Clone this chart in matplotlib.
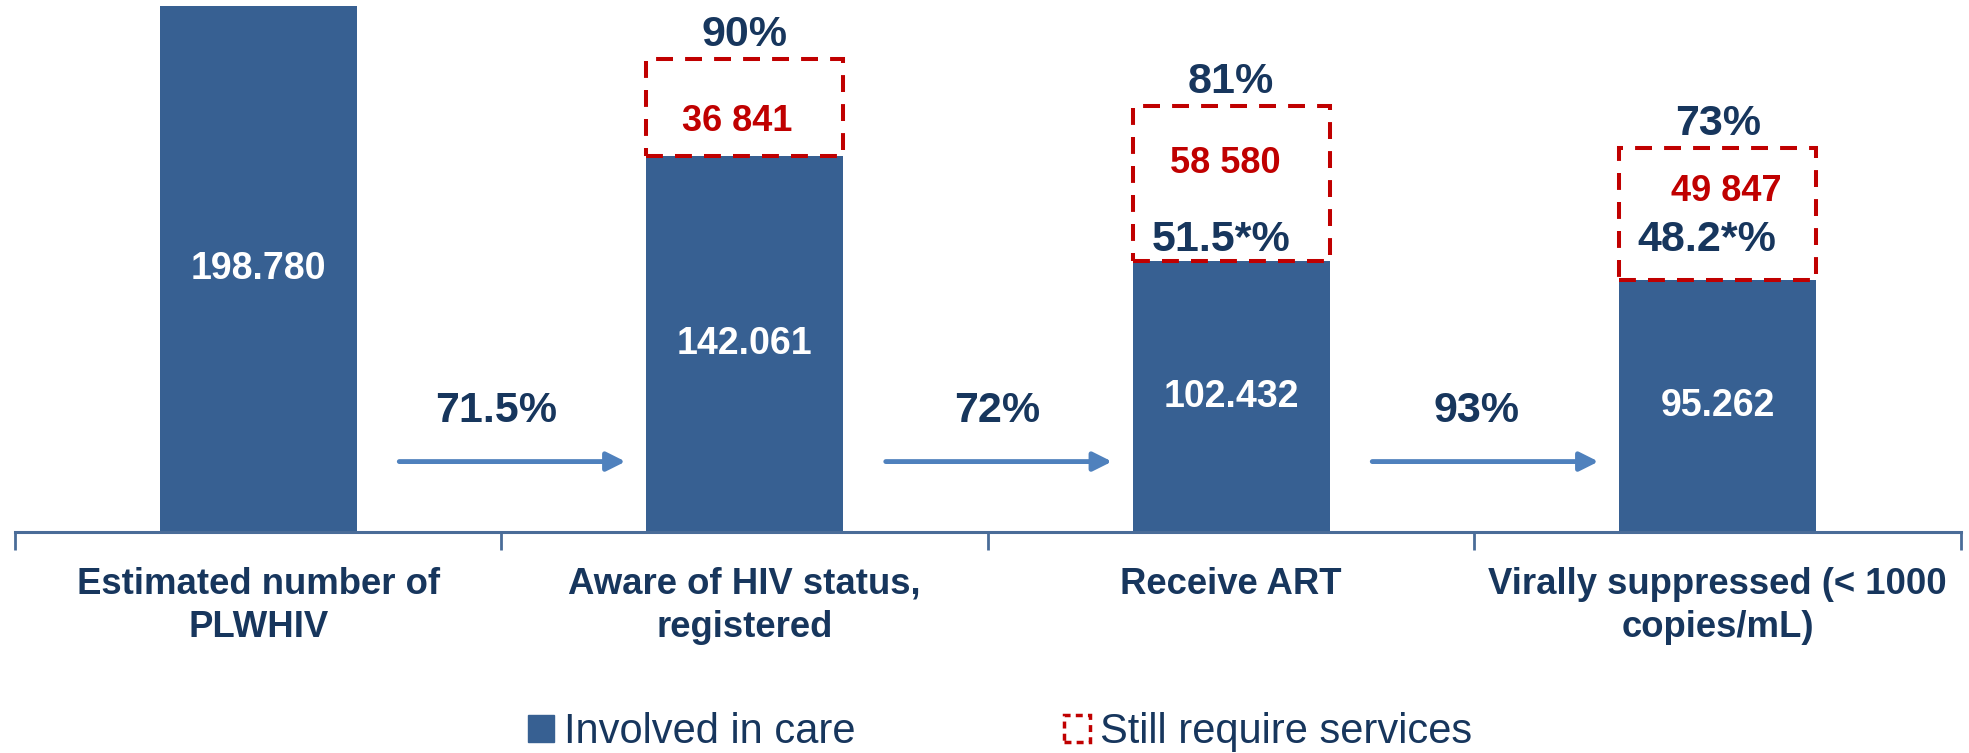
import matplotlib
matplotlib.use('Agg')
import matplotlib.pyplot as plt
from matplotlib.patches import Rectangle, Patch

# dados da cascata
categorias = ['Estimated number of\nPLWHIV', 'Aware of HIV status,\nregistered',
              'Receive ART', 'Virally suppressed (< 1000\ncopies/mL)']
em_cuidado = [198780, 142061, 102432, 95262]
rotulos_cuidado = ['198.780', '142.061', '102.432', '95.262']
faltam = [0, 36841, 58580, 49847]
rotulos_faltam = ['', '36 841', '58 580', '49 847']
pct_meta = ['', '90%', '81%', '73%']
pct_real = ['', '', '51.5*%', '48.2*%']
pct_passagem = ['71.5%', '72%', '93%']

azul = '#376092'
azul_seta = '#4F81BD'
navy = '#17365D'
vermelho = '#C00000'
eixo = '#4A6C98'

plt.rcParams['font.family'] = ['Liberation Sans', 'DejaVu Sans']

fig = plt.figure(figsize=(19.69, 7.53), dpi=100)
ax = fig.add_axes([0.0076, 0.293, 0.9883, 0.703])

x = range(len(categorias))
largura = 0.405
ax.bar(x, em_cuidado, width=largura, color=azul, zorder=2)

for i in x:
    ax.text(i, em_cuidado[i] / 2, rotulos_cuidado[i], ha='center', va='center',
            color='white', fontsize=27, fontweight='bold', zorder=4)
    if faltam[i] > 0:
        topo = em_cuidado[i] + faltam[i]
        ax.add_patch(Rectangle((i - largura / 2, em_cuidado[i]), largura, faltam[i],
                               fill=False, edgecolor=vermelho, lw=2.9,
                               linestyle=(0, (4.2, 3.0)), zorder=3))
        ax.annotate(pct_meta[i], (i, topo), xytext=(0, 17.5), textcoords='offset points',
                    ha='center', va='center', color=navy, fontsize=31, fontweight='bold')

# rotulos dentro das caixas tracejadas (ajuste fino na mao)
desloc_faltam = [None, (-5.5, -45), (-4, -41), (6, -31)]
desloc_real = [None, None, (-7, 15), (-8, 29)]
for i in x:
    if faltam[i] > 0:
        ax.annotate(rotulos_faltam[i], (i, em_cuidado[i] + faltam[i]), xytext=desloc_faltam[i],
                    textcoords='offset points', ha='center', va='center',
                    color=vermelho, fontsize=26, fontweight='bold')
    if pct_real[i]:
        ax.annotate(pct_real[i], (i, em_cuidado[i]), xytext=desloc_real[i],
                    textcoords='offset points', ha='center', va='center',
                    color=navy, fontsize=31, fontweight='bold')

# setas entre as barras
pos_pct = [0.49, 1.518, 2.505]
for i, p in enumerate(pct_passagem):
    ax.annotate('', xy=(i + 0.755, 26750), xytext=(i + 0.29, 26750),
                arrowprops=dict(arrowstyle='-|>', lw=3.5, color=azul_seta,
                                mutation_scale=28, shrinkA=0, shrinkB=0))
    ax.text(pos_pct[i], 45800, p, ha='center', va='center', color=navy,
            fontsize=31, fontweight='bold')

for i, c in enumerate(categorias):
    ax.text(i, -0.065, c, transform=ax.get_xaxis_transform(), ha='center', va='top',
            color=navy, fontsize=26.3, fontweight='bold', linespacing=1.3)

ax.set_xlim(-0.5, len(categorias) - 0.5)
ax.set_ylim(0, 200000)
for s in ['top', 'right', 'left']:
    ax.spines[s].set_visible(False)
ax.spines['bottom'].set_color(eixo)
ax.spines['bottom'].set_linewidth(2.2)
ax.set_yticks([])
ax.set_xticks([i - 0.5 for i in range(len(categorias) + 1)])
ax.set_xticklabels([])
ax.tick_params(axis='x', length=13, width=2, color=eixo, direction='out')

handles = [Patch(facecolor=azul, edgecolor=azul),
           Patch(facecolor='none', edgecolor=vermelho, linestyle=(0, (2, 1.5)), lw=2.5)]
leg = fig.legend(handles, ['Involved in care', 'Still require services'],
                 loc='center', bbox_to_anchor=(0.508, 0.028), ncol=2, frameon=False,
                 fontsize=30, handlelength=0.62, handleheight=0.62, handletextpad=0.25,
                 columnspacing=5.0)
for t in leg.get_texts():
    t.set_color(navy)

fig.savefig('out.png', dpi=100)
